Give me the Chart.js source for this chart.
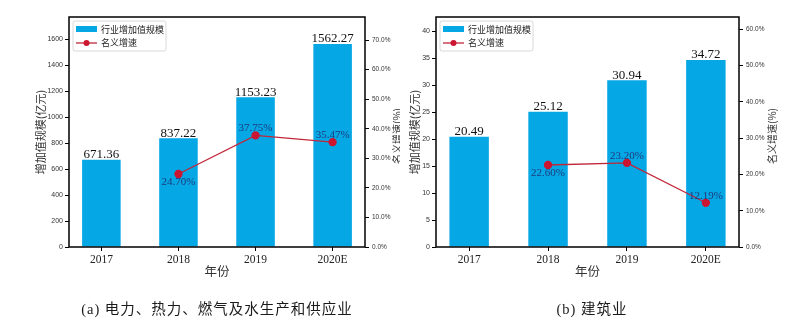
<!DOCTYPE html>
<html>
<head>
<meta charset="utf-8">
<script src="https://cdn.jsdelivr.net/npm/chart.js@4.4.0/dist/chart.umd.min.js"></script>
<style>
  body { margin: 0; width: 800px; height: 322px; background: #fff; position: relative; overflow: hidden; }
  .panel { position: absolute; top: 0; width: 400px; height: 322px; }
  .caption { position: absolute; top: 297px; font-family: "Liberation Serif", "Noto Sans CJK SC"; font-size: 14.5px; color: #1a1a1a; text-align: center; letter-spacing: 1px; }
</style>
</head>
<body>
<div class="panel" style="left:0"><canvas id="chartA" width="400" height="322"></canvas></div>
<div class="panel" style="left:400px"><canvas id="chartB" width="400" height="322"></canvas></div>
<div class="caption" style="left:0;width:434px">(a) 电力、热力、燃气及水生产和供应业</div>
<div class="caption" style="left:400px;width:384px">(b) 建筑业</div>
<script>
// years on the x axis
const years = ['2017', '2018', '2019', '2020E'];

// (a) electricity, heat, gas and water
const powerValue = [671.36, 837.22, 1153.23, 1562.27];
const powerGrowth = [null, 24.70, 37.75, 35.47];
const powerValueTicks = [0, 200, 400, 600, 800, 1000, 1200, 1400, 1600];
const powerGrowthTicks = [0, 10, 20, 30, 40, 50, 60, 70];

// (b) construction
const buildValue = [20.49, 25.12, 30.94, 34.72];
const buildGrowth = [null, 22.60, 23.20, 12.19];
const buildValueTicks = [0, 5, 10, 15, 20, 25, 30, 35, 40];
const buildGrowthTicks = [0, 10, 20, 30, 40, 50, 60];

const barColor = '#06a7e5';
const lineColor = '#c0283a';
const pointColor = '#cc1530';

// labels, legend, frame and axis titles
const decor = {
  id: 'decor',
  afterDatasetsDraw(chart, args, o) {
    const ctx = chart.ctx, a = chart.chartArea;
    ctx.save();

    // values on top of bars
    ctx.font = '13px "Liberation Serif"';
    ctx.fillStyle = '#111';
    ctx.textAlign = 'center';
    ctx.textBaseline = 'bottom';
    chart.getDatasetMeta(0).data.forEach((el, i) => {
      ctx.fillText(chart.data.datasets[0].data[i].y.toFixed(2), el.x, el.y + 1.5);
    });

    // growth labels
    ctx.font = '11px "Liberation Serif"';
    ctx.fillStyle = '#1d3b7c';
    ctx.textBaseline = 'middle';
    chart.getDatasetMeta(1).data.forEach((el, i) => {
      const v = chart.data.datasets[1].data[i].y;
      if (v == null) return;
      ctx.fillText(v.toFixed(2) + '%', el.x, el.y + (i === 1 ? 8 : -7));
    });

    // frame
    ctx.lineWidth = 1.5;
    ctx.strokeStyle = '#000';
    ctx.strokeRect(a.left, a.top, a.right - a.left, a.bottom - a.top);

    // legend
    const lx = a.left + 4, ly = a.top + 4;
    ctx.fillStyle = '#fff';
    ctx.strokeStyle = '#cfcfcf';
    ctx.lineWidth = 0.8;
    ctx.beginPath();
    ctx.roundRect(lx, ly, 93, 30, 2);
    ctx.fill();
    ctx.stroke();
    ctx.fillStyle = barColor;
    ctx.fillRect(lx + 3, ly + 5, 21, 6);
    ctx.strokeStyle = lineColor;
    ctx.lineWidth = 1.3;
    ctx.beginPath();
    ctx.moveTo(lx + 3, ly + 22);
    ctx.lineTo(lx + 24, ly + 22);
    ctx.stroke();
    ctx.fillStyle = pointColor;
    ctx.beginPath();
    ctx.arc(lx + 13.5, ly + 22, 3, 0, Math.PI * 2);
    ctx.fill();
    ctx.fillStyle = '#222';
    ctx.font = '9px "Noto Sans CJK SC"';
    ctx.textAlign = 'left';
    ctx.fillText('行业增加值规模', lx + 28, ly + 8.5);
    ctx.fillText('名义增速', lx + 28, ly + 22);

    // axis titles
    const midY = (a.top + a.bottom) / 2;
    ctx.fillStyle = '#333';
    ctx.textAlign = 'center';
    ctx.font = '11px "Noto Sans CJK SC"';
    ctx.save();
    ctx.translate(o.leftX, midY);
    ctx.rotate(-Math.PI / 2);
    ctx.fillText('增加值规模(亿元)', 0, 0);
    ctx.restore();
    ctx.font = '10px "Noto Sans CJK SC"';
    ctx.save();
    ctx.translate(o.rightX, midY + 4);
    ctx.rotate(-Math.PI / 2);
    ctx.fillText('名义增速(%)', 0, 0);
    ctx.restore();
    ctx.font = '12.5px "Noto Sans CJK SC"';
    ctx.fillText('年份', (a.left + a.right) / 2, 271);

    ctx.restore();
  }
};

function makeChart(id, values, growth, valueTicks, growthTicks, opt) {
  return new Chart(document.getElementById(id), {
    type: 'bar',
    data: {
      datasets: [
        {
          type: 'bar',
          label: '行业增加值规模',
          data: values.map((v, i) => ({ x: i, y: v })),
          backgroundColor: barColor,
          barPercentage: 0.5,
          categoryPercentage: 1,
          yAxisID: 'y',
          order: 1
        },
        {
          type: 'line',
          label: '名义增速',
          data: growth.map((v, i) => ({ x: i, y: v })),
          borderColor: lineColor,
          borderWidth: 1.3,
          pointRadius: 3.5,
          pointBackgroundColor: pointColor,
          pointBorderColor: pointColor,
          yAxisID: 'y1',
          order: 0
        }
      ]
    },
    options: {
      responsive: false,
      animation: false,
      layout: { padding: { top: 17, left: 0, right: 0, bottom: 0 } },
      plugins: {
        legend: { display: false },
        tooltip: { enabled: false },
        decor: { leftX: opt.leftX, rightX: opt.rightX }
      },
      scales: {
        x: {
          type: 'linear',
          min: -0.42,
          max: 3.42,
          offset: false,
          afterBuildTicks: s => { s.ticks = years.map((_, i) => ({ value: i })); },
          afterFit: s => { s.height = 75; },
          ticks: {
            callback: v => years[v],
            font: { family: 'Liberation Serif', size: 11.5 },
            color: '#222',
            padding: 2,
            maxRotation: 0
          },
          grid: { offset: false, drawOnChartArea: false, tickLength: 4, color: '#000' },
          border: { display: false }
        },
        y: {
          position: 'left',
          min: 0,
          max: opt.leftMax,
          afterBuildTicks: s => { s.ticks = valueTicks.map(v => ({ value: v })); },
          afterFit: s => { s.width = opt.leftW; },
          ticks: {
            callback: v => String(v),
            font: { family: 'Liberation Sans', size: 7 },
            color: '#333',
            padding: 2
          },
          grid: { drawOnChartArea: false, tickLength: 4, color: '#000' },
          border: { display: false }
        },
        y1: {
          position: 'right',
          min: 0,
          max: opt.rightMax,
          afterBuildTicks: s => { s.ticks = growthTicks.map(v => ({ value: v })); },
          afterFit: s => { s.width = opt.rightW; },
          ticks: {
            callback: v => v.toFixed(1) + '%',
            font: { family: 'Liberation Sans', size: 6.5 },
            color: '#333',
            padding: 3
          },
          grid: { drawOnChartArea: false, tickLength: 4, color: '#000' },
          border: { display: false }
        }
      }
    },
    plugins: [decor]
  });
}

makeChart('chartA', powerValue, powerGrowth, powerValueTicks, powerGrowthTicks, {
  leftMax: 1770, rightMax: 77.8, leftW: 69, rightW: 35, leftX: 41, rightX: 397
});
makeChart('chartB', buildValue, buildGrowth, buildValueTicks, buildGrowthTicks, {
  leftMax: 42.7, rightMax: 63.4, leftW: 36, rightW: 61, leftX: 15, rightX: 772
  - 400
});
</script>
</body>
</html>
